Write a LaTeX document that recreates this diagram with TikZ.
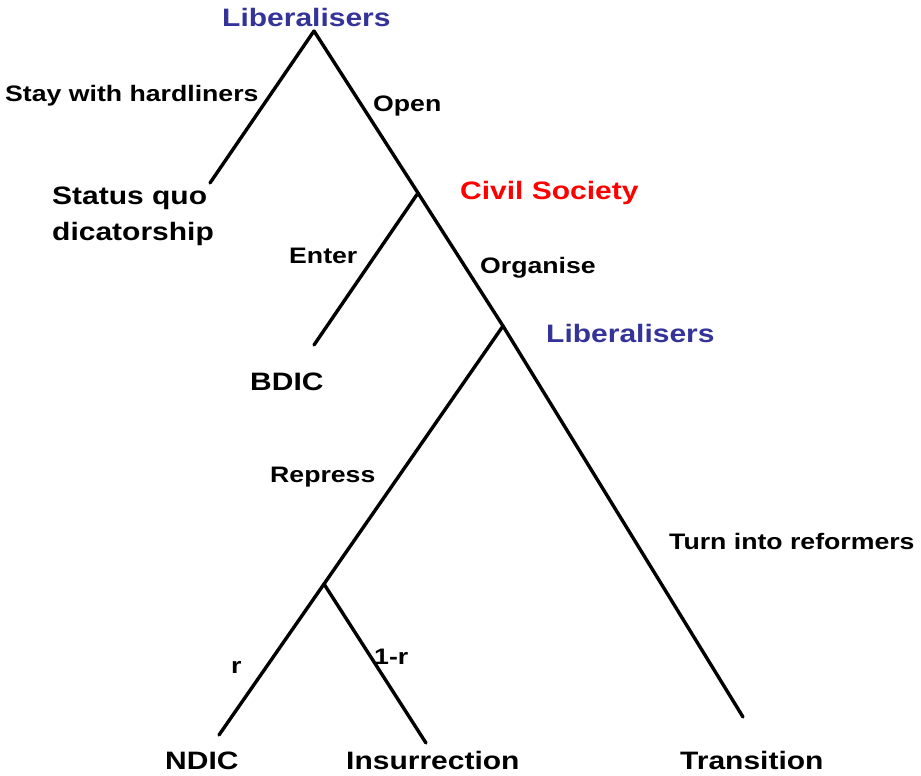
\documentclass[tikz,border=0pt]{standalone}
\usepackage{fontspec}
\setmainfont{Liberation Sans}[FakeStretch=1.19]
\definecolor{libblue}{RGB}{51,51,153}
\definecolor{civred}{RGB}{255,0,0}
\tikzset{
  branch/.style={line width=3.4bp, line cap=round, line join=round, black},
  big/.style={font=\fontsize{25.2bp}{36bp}\selectfont\bfseries, inner sep=0pt, anchor=base west},
  small/.style={font=\fontsize{22.4bp}{27bp}\selectfont\bfseries, inner sep=0pt, anchor=base west},
}
\begin{document}
\begin{tikzpicture}[x=1bp,y=-1bp]
\useasboundingbox (0,0) rectangle (921,776);
% tree vertices
\coordinate (root) at (314,31);
\coordinate (sq) at (210,183);
\coordinate (cs) at (418,193);
\coordinate (bdic) at (314,345);
\coordinate (lib2) at (503,326);
\coordinate (chance) at (324,584);
\coordinate (ndic) at (219,735);
\coordinate (ins) at (426,743);
\coordinate (tr) at (743,717);
% branches
\draw[branch] (root) -- (sq);
\draw[branch] (root) -- (cs);
\draw[branch] (cs) -- (bdic);
\draw[branch] (cs) -- (lib2);
\draw[branch] (lib2) -- (chance);
\draw[branch] (lib2) -- (tr);
\draw[branch] (chance) -- (ndic);
\draw[branch] (chance) -- (ins);
% player labels
\node[big, text=libblue] (p1) at (222,27) {Liberalisers};
\node[big, text=civred] (p2) at (460,199) {Civil Society};
\node[big, text=libblue] (p3) at (546,342) {Liberalisers};
% action labels
\node[small] (a1) at (5,101) {Stay with hardliners};
\node[small] (a2) at (373,111) {Open};
\node[small] (a3) at (289,263) {Enter};
\node[small] (a4) at (480,273) {Organise};
\node[small] (a5) at (270,482) {Repress};
\node[small] (a6) at (669,549) {Turn into reformers};
\node[small] (a7) at (231,673) {r};
\node[small] (a8) at (374,664) {1-r};
% outcomes
\node[big, align=left, anchor=north west] (o1) at (52,187) {Status quo\\dicatorship};
\node[big] (o2) at (250,390) {BDIC};
\node[big] (o3) at (165,769) {NDIC};
\node[big] (o4) at (346,769) {Insurrection};
\node[big] (o5) at (680,769) {Transition};
\end{tikzpicture}
\end{document}
